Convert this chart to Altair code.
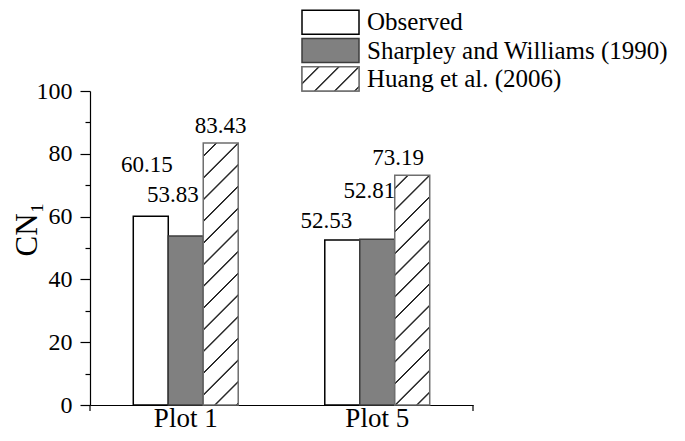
import altair as alt
import pandas as pd

# ---------------- data ----------------
plots = ["Plot 1", "Plot 5"]
series = ["Observed", "Sharpley and Williams (1990)", "Huang et al. (2006)"]
observed = [60.15, 52.53]
sharpley = [53.83, 52.81]
huang = [83.43, 73.19]
y_values = [0, 10, 20, 30, 40, 50, 60, 70, 80, 90, 100]

# ---------------- layout / style ----------------
FONT = "Liberation Serif"
W, H = 383, 314
TOTAL_W, TOTAL_H = 669, 424
PAD_L, PAD_T = 82, 83
X_PAD_INNER, X_PAD_OUTER = 0.452, 0.226
HATCH_PERIOD = 21.7
HATCH_COLOR = "#2a2a2a"
FILL_RANGE = ["#ffffff", "#808080", "#ffffff"]
STROKE_RANGE = ["#000000", "#3c3c3c", "#6e6e6e"]
LEG_RANGE = [-83, 2]
LEG_PI, LEG_PO = 0.15, 0.075
LEG_X = [212, 269]
LEG_TEXT_X = 277
# (dx, dy) of each value label relative to the bar centre / bar top
LABEL_OFFSETS = {
    ("Plot 1", series[0]): (-4, -44),
    ("Plot 1", series[1]): (-13, -34),
    ("Plot 1", series[2]): (0, -10),
    ("Plot 5", series[0]): (-16, -12),
    ("Plot 5", series[1]): (-8, -41),
    ("Plot 5", series[2]): (-14, -10),
}

rows = []
for i, p in enumerate(plots):
    for s, vals in zip(series, [observed, sharpley, huang]):
        rows.append({"plot": p, "series": s, "value": vals[i]})
df = pd.DataFrame(rows)

step = W / (len(plots) - X_PAD_INNER + 2 * X_PAD_OUTER)
bar_w = step * (1 - X_PAD_INNER) / len(series)


def hatch(w, h, period=HATCH_PERIOD):
    """Linear gradient that draws '/' hatch lines in a w x h box."""
    L = w + h
    stops = [(0.0, "#ffffff")]
    k = -int(w // period)
    while True:
        c = w + k * period
        if c >= L:
            break
        if c > 0:
            t = c / L
            a, b = 0.65 / L, 1.4 / L
            for off, col in [(t - b, "#ffffff"), (t - a, HATCH_COLOR),
                             (t + a, HATCH_COLOR), (t + b, "#ffffff")]:
                stops.append((min(max(off, 0.0), 1.0), col))
        k += 1
    stops.append((1.0, "#ffffff"))
    clean = []
    last = 0.0
    for off, col in stops:
        off = max(off, last)
        clean.append(alt.GradientStop(offset=off, color=col))
        last = off
    d = w * w + h * h
    return alt.LinearGradient(gradient="linear", stops=clean,
                              x1=0, y1=0, x2=L * w / d, y2=L * h / d)


# ---------------- encodings ----------------
x_axis = alt.Axis(title=None, ticks=False, labelAngle=0, labelFont=FONT,
                  labelFontSize=27, labelColor="black", labelBaseline="alphabetic",
                  labelPadding=21, domainColor="black", domainWidth=1.2)
y_axis = alt.Axis(values=y_values,
                  labelExpr="datum.value % 20 === 0 ? datum.label : ''",
                  tickSize={"condition": {"test": "datum.value % 20 === 0", "value": 10}, "value": 5},
                  tickColor="black", tickWidth=1.2, domainColor="black", domainWidth=1.2,
                  labelFont=FONT, labelFontSize=24, labelColor="black", labelPadding=8,
                  grid=False, title="CN₁", titleFont=FONT, titleFontSize=31,
                  titleFontWeight="normal", titleColor="black", titleX=-47, titleY=138)

x_enc = alt.X("plot:N", scale=alt.Scale(domain=plots, paddingInner=X_PAD_INNER,
                                         paddingOuter=X_PAD_OUTER), axis=x_axis)
xo_enc = alt.XOffset("series:N", scale=alt.Scale(domain=series, paddingInner=0, paddingOuter=0))
y_enc = alt.Y("value:Q", scale=alt.Scale(domain=[0, 100], nice=False), axis=y_axis)
fill_scale = alt.Scale(domain=series, range=FILL_RANGE)
stroke_scale = alt.Scale(domain=series, range=STROKE_RANGE)

base = alt.Chart(df)

solid = base.transform_filter(
    alt.FieldOneOfPredicate(field="series", oneOf=series[:2])
).mark_bar(strokeWidth=1.5).encode(
    x=x_enc, xOffset=xo_enc, y=y_enc,
    fill=alt.Fill("series:N", scale=fill_scale, legend=None),
    stroke=alt.Stroke("series:N", scale=stroke_scale, legend=None),
)

layers = [solid]
for i, p in enumerate(plots):
    h = huang[i] / 100 * H
    layers.append(
        base.transform_filter((alt.datum.series == series[2]) & (alt.datum.plot == p))
        .mark_bar(fill=hatch(bar_w, h), stroke=STROKE_RANGE[2], strokeWidth=1.5)
        .encode(x=x_enc, xOffset=xo_enc, y=y_enc)
    )

for (p, s), (dx, dy) in LABEL_OFFSETS.items():
    layers.append(
        base.transform_filter((alt.datum.series == s) & (alt.datum.plot == p))
        .mark_text(dx=dx, dy=dy, align="center", baseline="alphabetic",
                   font=FONT, fontSize=23, color="black")
        .encode(x=x_enc, xOffset=xo_enc, y=y_enc,
                text=alt.Text("value:Q", format=".2f"))
    )

end_df = pd.DataFrame({"k": [0]})
for xv in [0, W]:
    layers.append(
        alt.Chart(end_df).mark_rule(color="black", strokeWidth=1.2)
        .encode(x=alt.value(xv), y=alt.value(H), y2=alt.value(H + 6))
    )

main = alt.layer(*layers)

# ---------------- legend ----------------
leg_df = pd.DataFrame({"series": series})
leg_y = alt.Y("series:N", scale=alt.Scale(domain=series, range=LEG_RANGE,
                                           paddingInner=LEG_PI, paddingOuter=LEG_PO), axis=None)
leg_step = (LEG_RANGE[1] - LEG_RANGE[0]) / (len(series) - LEG_PI + 2 * LEG_PO)
leg_bw = leg_step * (1 - LEG_PI)

leg_rect = alt.Chart(leg_df).mark_rect(strokeWidth=1.5).encode(
    x=alt.value(LEG_X[0]), x2=alt.value(LEG_X[1]), y=leg_y,
    fill=alt.Fill("series:N", scale=fill_scale, legend=None),
    stroke=alt.Stroke("series:N", scale=stroke_scale, legend=None),
)
leg_hatch = alt.Chart(leg_df).transform_filter(alt.datum.series == series[2]).mark_rect(
    fill=hatch(LEG_X[1] - LEG_X[0], leg_bw, 20), stroke=STROKE_RANGE[2], strokeWidth=1.5
).encode(x=alt.value(LEG_X[0]), x2=alt.value(LEG_X[1]), y=leg_y)
leg_text = alt.Chart(leg_df).mark_text(align="left", baseline="middle", font=FONT,
                                       fontSize=25, color="black").encode(
    x=alt.value(LEG_TEXT_X), y=leg_y, text="series:N")

legend = alt.layer(leg_rect, leg_hatch, leg_text)

chart = alt.layer(main, legend).resolve_scale(y="independent").properties(
    width=W, height=H,
    padding={"left": PAD_L, "top": PAD_T, "right": TOTAL_W - PAD_L - W,
             "bottom": TOTAL_H - PAD_T - H},
    autosize=alt.AutoSizeParams(type="none"),
    background="white",
).configure_view(stroke=None)

chart.save("out.html", embed_options={"renderer": "svg", "actions": False})
